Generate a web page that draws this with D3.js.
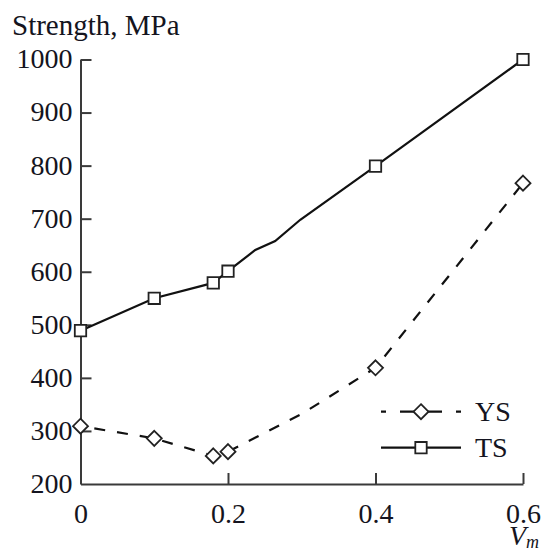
<!DOCTYPE html>
<html>
<head>
<meta charset="utf-8">
<script src="https://cdn.jsdelivr.net/npm/d3@7"></script>
<style>
  html, body { margin: 0; padding: 0; background: #fff; }
  svg { display: block; }
</style>
</head>
<body>
<svg id="chart" width="543" height="552"></svg>
<script>
// Volume fraction of martensite (V_m) and measured strengths, MPa
const vm = [0, 0.1, 0.18, 0.2, 0.4, 0.6];
const ysValues = [309, 286, 253, 261, 419, 767];
const tsValues = [489, 550, 579, 601, 799, 1000];

// Drawn curves (the traced lines pass through a few extra bends between markers)
const ysCurveX = [0, 0.1, 0.18, 0.2, 0.3, 0.4, 0.6];
const ysCurveY = [309, 286, 253, 261, 332, 419, 767];
const tsCurveX = [0, 0.1, 0.18, 0.2, 0.237, 0.264, 0.298, 0.4, 0.6];
const tsCurveY = [489, 550, 579, 601, 641, 658, 698, 799, 1000];

const xTicks = [0, 0.2, 0.4, 0.6];
const xTickLabels = ["0", "0.2", "0.4", "0.6"];
const yTicks = [200, 300, 400, 500, 600, 700, 800, 900, 1000];
const seriesNames = ["YS", "TS"];

const fontStack = "'Liberation Serif', 'Times New Roman', serif";
const textColor = "#141420";

const svg = d3.select("#chart");
const x = d3.scaleLinear().domain([0, 0.6]).range([80.5, 523]);
const y = d3.scaleLinear().domain([200, 1000]).range([484, 59.5]);

const axisColor = "#3a3a3a";
const lineColor = "#111";

// Axes
const gx = svg.append("g").attr("transform", `translate(0,${y(200)})`)
  .call(d3.axisBottom(x).tickValues(xTicks).tickSizeInner(-11).tickSizeOuter(0)
    .tickFormat((d, i) => xTickLabels[i]).tickPadding(19));
const gy = svg.append("g").attr("transform", `translate(${x(0)},0)`)
  .call(d3.axisLeft(y).tickValues(yTicks).tickSizeInner(-11).tickSizeOuter(0)
    .tickFormat(d3.format("d")).tickPadding(20));

[gx, gy].forEach(g => {
  g.select(".domain").attr("stroke", axisColor).attr("stroke-width", 2);
  g.selectAll(".tick line").attr("stroke", axisColor).attr("stroke-width", 2);
  g.selectAll(".tick text").attr("font-size", 28).attr("fill", textColor)
    .style("font-family", fontStack);
});
gx.selectAll(".tick text").attr("dy", "0.71em");
gy.selectAll(".tick text").attr("x", -8).attr("dy", "0.30em");
// the zero tick on the x axis sits on the y axis; hide its tick mark
gx.selectAll(".tick").filter(d => d === 0).select("line").remove();
gy.selectAll(".tick").filter(d => d === 200).select("line").remove();

// Axis titles
svg.append("text").attr("x", 12).attr("y", 35).attr("font-size", 29)
  .attr("fill", textColor).style("font-family", fontStack).text("Strength, MPa");
const vt = svg.append("text").attr("x", 509).attr("y", 545).attr("font-size", 28)
  .attr("fill", textColor).style("font-family", fontStack).attr("font-style", "italic");
vt.append("tspan").text("V");
vt.append("tspan").attr("font-size", 18).attr("dy", 3).text("m");

// Lines
const line = d3.line().x(d => x(d[0])).y(d => y(d[1]));
const ysCurve = ysCurveX.map((v, i) => [v, ysCurveY[i]]);
const tsCurve = tsCurveX.map((v, i) => [v, tsCurveY[i]]);

svg.append("path").datum(tsCurve).attr("d", line)
  .attr("fill", "none").attr("stroke", lineColor).attr("stroke-width", 2.2);
svg.append("path").datum(ysCurve).attr("d", line)
  .attr("fill", "none").attr("stroke", lineColor).attr("stroke-width", 2.2)
  .attr("stroke-dasharray", "11,12").attr("stroke-dashoffset", -14);

// Markers
const square = d3.symbol().type(d3.symbolSquare).size(130);
const diamond = (cx, cy, r) => `M${cx},${cy - r}L${cx + r},${cy}L${cx},${cy + r}L${cx - r},${cy}Z`;

svg.append("g").selectAll("path").data(vm).join("path")
  .attr("d", (d, i) => diamond(x(d), y(ysValues[i]), 7.5))
  .attr("fill", "#fff").attr("stroke", "#222").attr("stroke-width", 1.8);
svg.append("g").selectAll("path").data(vm).join("path")
  .attr("transform", (d, i) => `translate(${x(d)},${y(tsValues[i])})`)
  .attr("d", square)
  .attr("fill", "#fff").attr("stroke", "#222").attr("stroke-width", 1.8);

// Legend
const lg = svg.append("g");
const legY = [411.7, 447.7];
lg.append("line").attr("x1", 381).attr("x2", 461).attr("y1", legY[0]).attr("y2", legY[0])
  .attr("stroke", lineColor).attr("stroke-width", 2.2)
  .attr("stroke-dasharray", "14,14").attr("stroke-dashoffset", 9);
lg.append("path").attr("d", diamond(421, legY[0], 7.5))
  .attr("fill", "#fff").attr("stroke", "#222").attr("stroke-width", 1.8);
lg.append("line").attr("x1", 381).attr("x2", 461).attr("y1", legY[1]).attr("y2", legY[1])
  .attr("stroke", lineColor).attr("stroke-width", 2.2);
lg.append("path").attr("transform", `translate(421,${legY[1]})`).attr("d", square)
  .attr("fill", "#fff").attr("stroke", "#222").attr("stroke-width", 1.8);
lg.selectAll("text").data(seriesNames).join("text")
  .attr("x", 475).attr("y", (d, i) => legY[i] + 9.5)
  .attr("font-size", 28).attr("fill", textColor).style("font-family", fontStack)
  .text(d => d);
</script>
</body>
</html>
